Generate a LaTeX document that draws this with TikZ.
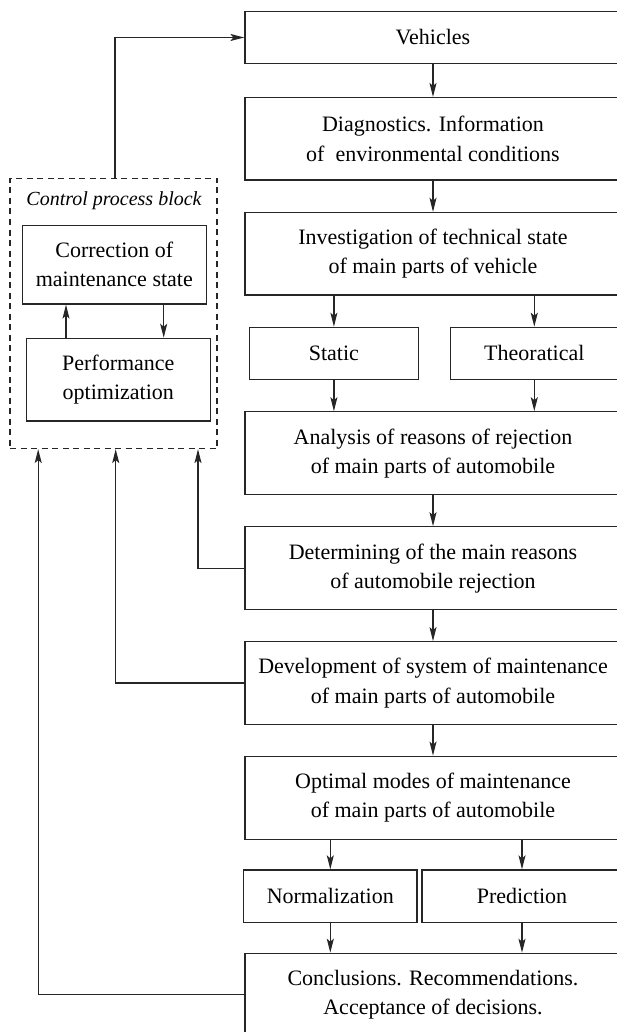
\documentclass[tikz,border=0pt]{standalone}
\usepackage{fontspec}
\setmainfont{Liberation Serif}
\usetikzlibrary{arrows.meta}
\tikzset{
    box/.style={ % Sets the properties for each block
    draw=black!85, line width=1.2pt,
    inner sep=0pt, align=center,
    font=\fontsize{22}{29.3}\selectfont},
    ctrlbox/.style={ % Dashed frame of the control block
    draw=black!85, line width=1.2pt,
    dash pattern=on 6pt off 4.5pt,
    inner sep=0pt},
    arr/.style={ % Connectors with long narrow heads
    draw=black!85, line width=1.2pt,
    -{Stealth[length=14pt,width=7pt,inset=3pt]}}}

\begin{document}
\begin{tikzpicture}[x=1pt, y=-1pt]
        % Page frame, the right column runs off the edge
        \useasboundingbox (0,0) rectangle (617,1032);
        \clip (0,0) rectangle (617,1032);

        % Main column of blocks
        \node[box, minimum width=376, minimum height=52.4] (veh) at (433,37.5) {Vehicles};
        \node[box, minimum width=376, minimum height=82.6] (diag) at (433,138.8) {Diagnostics. Information\\of\ \ environmental conditions};
        \node[box, minimum width=376, minimum height=82.6] (inv) at (433,253.7) {Investigation of technical state\\of main parts of vehicle};

        % Two kinds of investigation
        \node[box, minimum width=168.5, minimum height=52.2] (stat) at (333.9,353.4) {Static};
        \node[box, minimum width=168, minimum height=52.2] (theo) at (534.3,353.4) {Theoratical};

        \node[box, minimum width=376, minimum height=83] (ana) at (433,453.3) {Analysis of reasons of rejection\\of main parts of automobile};
        \node[box, minimum width=376, minimum height=83] (det) at (433,568.3) {Determining of the main reasons\\of automobile rejection};
        \node[box, minimum width=376, minimum height=82.6] (dev) at (433,683) {Development of system of maintenance\\of main parts of automobile};
        \node[box, minimum width=376, minimum height=83] (opt) at (433,797.7) {Optimal modes of maintenance\\of main parts of automobile};

        % Normalization and prediction
        \node[box, minimum width=173.2, minimum height=52.7] (norm) at (330.3,896.3) {Normalization};
        \node[box, minimum width=200, minimum height=52.7] (pred) at (522,896.3) {Prediction};

        \node[box, minimum width=376, minimum height=83] (concl) at (433,994.8) {Conclusions. Recommendations.\\Acceptance of decisions.};

        % Control process block
        \node[ctrlbox, minimum width=207, minimum height=270] (ctrl) at (113.5,313.5) {};
        \node[font=\fontsize{20}{24}\selectfont\itshape] (ctrltitle) at (114,201) {Control process block};
        \node[box, minimum width=183.8, minimum height=78.7] (corr) at (114.3,264.7) {Correction of\\maintenance state};
        \node[box, minimum width=183.8, minimum height=82.7] (perf) at (118.3,379.7) {Performance\\optimization};

        % Columns of the vertical lines
        \coordinate (lup) at (66,0);
        \coordinate (ldn) at (163.7,0);
        \coordinate (ltop) at (115,0);
        \coordinate (fb1) at (198,0);
        \coordinate (fb2) at (115.7,0);
        \coordinate (fb3) at (38.2,0);

        % Flow down the main column
        \draw[arr] (veh) -- (diag);
        \draw[arr] (diag) -- (inv);
        \draw[arr] (stat.north |- inv.south) -- (stat);
        \draw[arr] (theo.north |- inv.south) -- (theo);
        \draw[arr] (stat) -- (stat.south |- ana.north);
        \draw[arr] (theo) -- (theo.south |- ana.north);
        \draw[arr] (ana) -- (det);
        \draw[arr] (det) -- (dev);
        \draw[arr] (dev) -- (opt);
        \draw[arr] (norm.north |- opt.south) -- (norm);
        \draw[arr] (pred.north |- opt.south) -- (pred);
        \draw[arr] (norm) -- (norm.south |- concl.north);
        \draw[arr] (pred) -- (pred.south |- concl.north);

        % Inside the control block
        \draw[arr] (lup |- perf.north) -- (lup |- corr.south);
        \draw[arr] (ldn |- corr.south) -- (ldn |- perf.north);

        % Control block back to the vehicles
        \draw[arr] (ltop |- ctrl.north) |- (veh.west);

        % Feedback into the control block
        \draw[arr] (det.west) -| (fb1 |- ctrl.south);
        \draw[arr] (dev.west) -| (fb2 |- ctrl.south);
        \draw[arr] (concl.west) -| (fb3 |- ctrl.south);

    \end{tikzpicture}
\end{document}
